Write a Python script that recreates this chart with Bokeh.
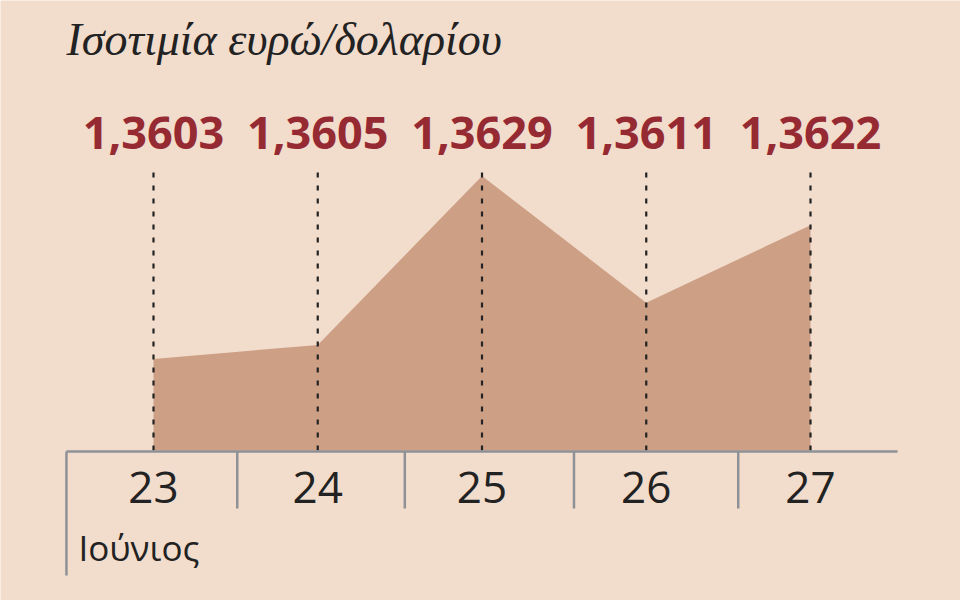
from bokeh.plotting import figure
from bokeh.models import Range1d, ColumnDataSource
from bokeh.core.properties import value
from bokeh.embed import file_html
from bokeh.resources import INLINE

# ---- data ----
days = [23, 24, 25, 26, 27]
day_labels = ["23", "24", "25", "26", "27"]
rates = [1.3603, 1.3605, 1.3629, 1.3611, 1.3622]
rate_labels = ["1,3603", "1,3605", "1,3629", "1,3611", "1,3622"]
# category boundaries of the day axis (separators)
boundaries = [22.47, 23.51, 24.53, 25.56, 26.56, 27.53]
title_text = "Ισοτιμία ευρώ/δολαρίου"
month_text = "Ιούνιος"

# ---- style ----
BG = "#f2dccc"
AREA = "#cda086"
RED = "#962a33"
DARK = "#222222"
GRID = "#8e9297"

W, H = 960, 600
# scales (pixels per unit)
PX_PER_DAY = 164.25
PX_PER_RATE = 70400.0
BASE = 1.3590                      # baseline value of the area
x0 = days[0] - 153 / PX_PER_DAY    # left edge of frame
y_top = BASE + 450 / PX_PER_RATE
y_bot = BASE - 150 / PX_PER_RATE


def ry(px_from_base):
    """value that is px_from_base pixels above the baseline"""
    return BASE + px_from_base / PX_PER_RATE


p = figure(width=W, height=H, output_backend="svg", toolbar_location=None,
           x_range=Range1d(x0, x0 + W / PX_PER_DAY),
           y_range=Range1d(y_bot, y_top),
           min_border=0, x_axis_type=None, y_axis_type=None,
           background_fill_color=BG, border_fill_color=BG)
p.outline_line_color = None
p.grid.visible = False

src = ColumnDataSource(dict(x=days, y=rates, lab=rate_labels, dl=day_labels,
                            base=[BASE] * len(days),
                            top=[ry(280)] * len(days)))

# area
p.varea(x="x", y1="base", y2="y", source=src, fill_color=AREA)

# dashed verticals
p.segment(x0="x", y0="base", x1="x", y1="top", source=src,
          line_color=DARK, line_width=2.2, line_dash="5 8")

# value labels
p.text(x="x", y=ry(318), text="lab", source=src, text_color=RED,
       text_font=value("Open Sans"), text_font_style="bold",
       text_font_size="45px", text_align="center", text_baseline="alphabetic")

# axis line and separators
inner = boundaries[1:-1]
p.segment(x0=[boundaries[0]], y0=[ry(-1)], x1=[boundaries[-1]], y1=[ry(-1)],
          line_color=GRID, line_width=2.5)
p.segment(x0=inner, y0=[ry(-1)] * len(inner), x1=inner,
          y1=[ry(-58)] * len(inner), line_color=GRID, line_width=2.5)
p.segment(x0=[boundaries[0]], y0=[ry(-1)], x1=[boundaries[0]], y1=[ry(-125)],
          line_color=GRID, line_width=2.5)

# day labels
p.text(x="x", y=ry(-37), text="dl", source=src, text_color=DARK,
       text_font=value("Open Sans"), text_font_size="44px",
       text_align="center", text_baseline="alphabetic")

# month label
p.text(x=[boundaries[0] + 12 / PX_PER_DAY], y=[ry(-97)], text=[month_text],
       text_color=DARK, text_font=value("Open Sans"), text_font_size="35px",
       text_align="left", text_baseline="alphabetic")

# title
p.text(x=[x0 + 66 / PX_PER_DAY], y=[ry(411)], text=[title_text],
       text_color=DARK, text_font=value("Liberation Serif"),
       text_font_style="italic", text_font_size="46px",
       text_align="left", text_baseline="alphabetic")

open("out.html", "w").write(file_html(p, INLINE))
